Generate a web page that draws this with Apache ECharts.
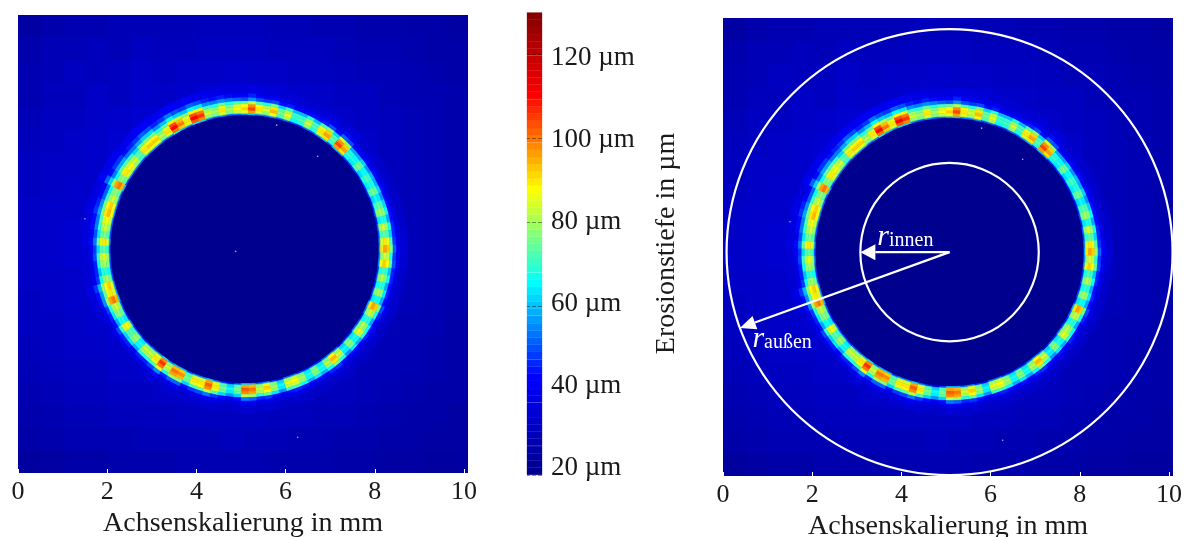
<!DOCTYPE html>
<html><head><meta charset="utf-8"><style>html,body{margin:0;padding:0;background:#fff}#c{width:1186px;height:537px}</style>
<script src="https://cdn.jsdelivr.net/npm/echarts@6/dist/echarts.min.js"></script></head>
<body><div id="c"></div><script>
const xTicks=[0,2,4,6,8,10];
const depthTicks=[20,40,60,80,100,120];
const jetColors=['#00008f','#0000ff','#00ffff','#ffff00','#ff0000','#6f0000'];
const colorbarLevels=[20.9,22.6,24.3,26,27.8,29.5,31.2,32.9,34.6,36.3,38.1,39.8,41.5,43.2,44.9,46.6,48.4,50.1,51.8,53.5,55.2,56.9,58.7,60.4,62.1,63.8,65.5,67.2,69,70.7,72.4,74.1,75.8,77.5,79.3,81,82.7,84.4,86.1,87.8,89.6,91.3,93,94.7,96.4,98.1,99.9,101.6,103.3,105,106.7,108.4,110.2,111.9,113.6,115.3,117,118.7,120.5,122.2,123.9,125.6,127.3,129];
// Background depth outside the ring, rows top to bottom
const backgroundDepth=[
[25,27,28,28,29,29,29,29,30,30,30,29,29,28,28,27,27,26,26,25],
[27,29,29,30,29,31,30,30,31,31,31,30,30,30,29,28,28,27,26,26],
[28,29,31,30,31,32,31,32,32,33,32,32,31,31,30,29,29,28,27,26],
[28,30,30,32,31,33,32,33,34,35,35,34,33,32,31,31,29,28,28,27],
[29,31,31,32,33,34,34,35,35,36,36,35,34,33,32,31,30,29,28,27],
[30,31,32,33,34,34,35,35,30,30,30,30,35,34,32,32,30,29,28,27],
[31,32,32,33,34,35,35,30,30,30,30,30,30,34,33,31,30,29,28,27],
[31,32,33,33,35,35,30,30,30,30,30,30,30,30,33,31,30,29,28,27],
[32,33,33,34,35,30,30,30,30,30,30,30,30,30,33,32,30,29,28,27],
[32,33,34,35,35,30,30,30,30,30,30,30,30,30,33,32,30,29,28,27],
[32,33,34,34,35,30,30,30,30,30,30,30,30,30,33,31,30,29,28,27],
[32,32,33,34,35,30,30,30,30,30,30,30,30,30,32,31,30,29,28,27],
[31,32,33,33,34,35,30,30,30,30,30,30,30,33,32,31,30,29,28,27],
[31,31,32,33,33,35,35,30,30,30,30,30,33,33,32,30,29,28,28,26],
[30,31,32,32,33,33,35,35,30,30,30,34,33,32,31,30,29,28,27,26],
[29,30,31,31,32,32,33,34,34,34,33,33,32,31,31,29,29,28,27,26],
[28,29,30,30,31,31,32,32,33,33,32,32,31,30,30,29,28,27,26,26],
[27,28,29,29,30,30,30,31,31,31,31,30,30,29,29,28,27,26,26,25],
[26,27,28,28,28,29,29,29,29,30,29,29,28,28,27,27,26,26,25,25],
[24,25,26,26,27,27,27,28,28,28,28,27,27,27,26,26,25,25,24,24]];
// Ring depth, one array per radial band, angle steps of 3 degrees clockwise from the top
const ringInnerEdge=[58,62,56,54,58,50,54,48,46,52,50,56,60,50,62,58,48,46,48,44,46,46,48,44,46,50,46,52,50,54,58,54,56,48,50,46,50,46,58,52,46,50,54,46,48,44,52,56,52,46,48,46,48,54,54,44,48,56,52,60,62,50,44,48,54,62,56,56,50,60,60,54,64,56,54,52,46,50,48,54,46,48,52,60,56,56,50,48,50,54,50,56,50,52,54,58,56,54,50,60,50,56,54,54,50,56,58,58,52,56,66,60,56,66,64,54,52,56,52,54];
const ringInner=[86,96,84,78,88,72,80,66,68,78,68,84,90,70,96,90,66,64,72,62,68,64,72,62,70,76,64,78,70,84,90,78,86,68,76,66,76,64,90,78,66,76,80,64,74,62,78,88,76,64,74,64,76,82,80,62,76,86,78,94,96,72,62,72,84,96,84,84,72,92,94,78,98,84,78,78,64,76,70,82,64,74,78,94,84,86,74,66,76,80,70,84,72,78,82,88,86,78,74,94,74,84,82,78,70,84,86,86,76,84,100,92,84,102,98,78,76,84,76,82];
const ringPeak=[92,104,90,84,94,76,86,70,72,84,72,90,96,74,104,96,70,68,76,66,72,68,76,66,74,80,68,84,74,90,96,84,92,72,82,70,80,68,96,84,70,82,86,68,78,66,84,94,82,68,78,68,80,88,86,66,80,92,84,100,102,76,66,76,90,102,90,90,76,98,100,84,106,90,84,84,68,80,74,88,68,78,84,100,90,92,80,70,80,86,74,90,76,84,88,94,92,84,78,100,78,90,88,84,74,90,92,92,82,90,110,100,90,110,106,84,80,90,80,88];
const ringOuter=[88,98,88,82,90,74,82,70,70,80,72,86,92,72,98,92,68,66,74,66,70,68,74,64,72,78,68,80,72,86,92,82,88,70,78,68,78,66,92,80,68,78,82,66,76,64,80,90,78,66,76,66,78,84,82,64,78,88,80,96,98,74,64,74,86,98,88,86,74,94,96,80,100,86,80,80,66,76,72,84,66,76,80,96,86,88,78,68,78,82,72,86,74,80,84,90,88,80,76,96,76,86,84,80,72,86,88,88,78,86,104,94,86,104,100,80,76,86,76,84];
const ringFlank=[74,82,72,68,76,62,70,60,60,68,60,72,78,62,84,78,58,58,62,56,60,58,62,56,62,66,58,68,62,72,78,68,74,60,66,58,64,58,76,68,58,66,70,58,64,56,68,76,66,58,64,58,66,72,70,56,64,74,68,80,82,62,56,62,72,82,74,72,62,78,80,68,86,72,68,68,58,64,62,70,58,64,68,80,74,78,66,60,66,70,62,74,64,70,72,76,76,70,66,80,66,74,72,70,62,74,76,76,68,74,88,82,76,88,86,70,68,74,68,72];
const ringFringe=[50,56,50,48,50,44,46,42,42,44,44,46,50,44,52,50,42,42,44,42,44,42,44,42,44,44,44,46,46,48,52,48,50,46,46,44,46,44,50,46,42,44,46,42,44,42,44,48,46,42,44,42,44,46,44,40,44,48,46,52,54,44,40,44,48,54,50,48,44,52,52,46,56,50,46,46,42,46,46,50,44,46,48,56,56,60,48,46,46,50,48,54,50,54,54,58,56,52,52,62,54,58,58,54,54,58,62,62,56,60,66,62,60,66,64,56,54,56,54,52];
const ringHalo=[42,46,42,40,42,38,40,37,37,38,38,40,42,38,44,42,37,37,38,36,37,36,38,36,37,37,37,38,38,40,42,40,41,38,38,37,38,37,40,38,36,37,38,36,37,36,37,39,38,36,37,36,37,38,37,35,37,39,38,41,42,37,35,37,39,42,40,39,37,41,41,38,44,40,38,38,36,38,38,40,37,38,39,44,44,48,40,38,38,40,39,44,40,44,44,48,46,42,42,52,44,48,48,44,46,48,52,50,46,48,54,50,48,52,50,46,44,46,44,42];
const ringFarHalo=[37,38,37,36,36,35,35,34,34,34,34,35,36,34,36,36,33,33,34,33,33,33,33,32,33,33,33,33,34,34,35,34,34,33,33,33,33,33,34,33,32,33,33,32,33,32,33,33,33,32,33,32,33,33,33,32,33,34,33,34,35,33,32,33,34,35,34,34,33,34,34,33,36,34,33,33,33,33,33,34,33,34,34,36,36,38,35,34,34,35,35,37,36,37,37,39,38,37,37,41,38,40,40,38,39,40,42,42,40,41,43,42,40,42,40,39,38,38,37,36];
const ringBands=[ringInnerEdge,ringInner,ringPeak,ringOuter,ringFlank,ringFringe,ringHalo,ringFarHalo];
const bandEdgesMm=[3.016,3.05,3.12,3.19,3.26,3.33,3.41,3.5,3.66];
const centerMm=[5.08,5.02];
const boreDepth=20;
const speckles=[[5.8,7.8],[6.72,7.1],[4.88,4.97],[1.5,5.7],[6.27,0.8]];
const rInnerMm=2, rOuterMm=5;
const arrowAngles=[270,250.1];
const xMax=10.09,yMax=10.27;

const bgCells=[];
backgroundDepth.forEach((row,r)=>row.forEach((v,c)=>{
  const w=xMax/row.length,h=yMax/backgroundDepth.length;
  bgCells.push([v,c*w,yMax-r*h,(c+1)*w,yMax-(r+1)*h]);
}));
const ringCells=[];
ringBands.forEach((band,b)=>band.forEach((v,i)=>{
  ringCells.push([v,bandEdgesMm[b],bandEdgesMm[b+1],i*3]);
}));
const pt=(r,deg)=>[centerMm[0]+r*Math.sin(deg*Math.PI/180),centerMm[1]+r*Math.cos(deg*Math.PI/180)];

const rectSeries=(idx)=>({type:'custom',xAxisIndex:idx,yAxisIndex:idx,animation:false,progressive:0,silent:true,z:2,data:bgCells,
  renderItem:(p,api)=>{const a=api.coord([api.value(1),api.value(2)]),b=api.coord([api.value(3),api.value(4)]);const x=Math.round(a[0]),y=Math.round(a[1]);
    return {type:'rect',shape:{x:x,y:y,width:Math.round(b[0])-x,height:Math.round(b[1])-y},style:{fill:api.visual('color')}};}});
const discSeries=(idx)=>({type:'custom',xAxisIndex:idx,yAxisIndex:idx,animation:false,silent:true,z:3,data:[[boreDepth,centerMm[0],centerMm[1],bandEdgesMm[0]]],
  renderItem:(p,api)=>{const c=api.coord([api.value(1),api.value(2)]);const rp=api.size([api.value(3),0])[0];
    return {type:'circle',shape:{cx:c[0],cy:c[1],r:rp},style:{fill:api.visual('color')}};}});
const ringSeries=(idx)=>({type:'custom',xAxisIndex:idx,yAxisIndex:idx,animation:false,progressive:0,silent:true,z:4,data:ringCells,
  renderItem:(p,api)=>{const r0=api.value(1),r1=api.value(2),t=api.value(3);const col=api.visual('color');
    const pts=[pt(r0,t-1.5),pt(r0,t+1.5),pt(r1,t+1.5),pt(r1,t-1.5)].map(q=>api.coord(q));
    return {type:'polygon',shape:{points:pts},style:{fill:col,stroke:col,lineWidth:.6}};}});
const speckSeries=(idx)=>({type:'scatter',xAxisIndex:idx,yAxisIndex:idx,animation:false,silent:true,z:5,symbolSize:1.6,itemStyle:{color:'#cfd8ff'},data:speckles,encode:{x:0,y:1}});
const annotationSeries={type:'custom',xAxisIndex:1,yAxisIndex:1,animation:false,silent:true,z:8,data:[[0]],
  renderItem:(p,api)=>{
    const c=api.coord(centerMm),scale=api.size([1,0])[0],kids=[];
    [rInnerMm,rOuterMm].forEach(r=>kids.push({type:'circle',shape:{cx:c[0],cy:c[1],r:r*scale},style:{fill:'none',stroke:'#fff',lineWidth:2.2}}));
    [rInnerMm,rOuterMm].forEach((r,i)=>{
      const tip=api.coord(pt(r,arrowAngles[i]));
      const dx=tip[0]-c[0],dy=tip[1]-c[1],L=Math.hypot(dx,dy),ux=dx/L,uy=dy/L,hl=i?16:15,hw=i?7:8;
      const bx=tip[0]-ux*hl,by=tip[1]-uy*hl;
      kids.push({type:'line',shape:{x1:c[0],y1:c[1],x2:bx,y2:by},style:{stroke:'#fff',lineWidth:2.2}});
      kids.push({type:'polygon',shape:{points:[tip,[bx-uy*hw,by+ux*hw],[bx+uy*hw,by-ux*hw]]},style:{fill:'#fff'}});
    });
    const lab=(mm,name,sub)=>{const q=api.coord(mm);
      kids.push({type:'text',x:q[0],y:q[1],style:{text:'{r|'+name+'}{s|'+sub+'}',fill:'#fff',verticalAlign:'middle',rich:{r:{font:'italic 30px "Liberation Serif"',fill:'#fff'},s:{font:'20px "Liberation Serif"',fill:'#fff',padding:[7,0,0,0]}}}});};
    lab([3.46,5.35],'r','innen');
    lab([0.66,3.07],'r','außen');
    return {type:'group',children:kids};
  }};
const colorbarSeries={type:'custom',xAxisIndex:2,yAxisIndex:2,animation:false,silent:true,z:2,data:colorbarLevels.map(v=>[v]),
  renderItem:(p,api)=>{const v=api.value(0);const a=api.coord([0,v+.86]),b=api.coord([1,v-.86]);const col=api.visual('color');
    return {type:'rect',shape:{x:a[0],y:a[1],width:b[0]-a[0],height:b[1]-a[1]},style:{fill:col,stroke:col,lineWidth:.3}};}};

const FONT='"Liberation Serif"';
const xAxis=(idx,gap)=>({gridIndex:idx,type:'value',min:0,max:xMax,z:10,name:'Achsenskalierung in mm',nameLocation:'middle',nameGap:gap,
  nameTextStyle:{fontFamily:FONT,fontSize:28,color:'#1a1a1a'},axisLine:{show:false},splitLine:{show:false},
  axisTick:{show:true,inside:true,length:4,customValues:xTicks,lineStyle:{color:'#fff',width:1}},
  axisLabel:{customValues:xTicks,margin:6,fontFamily:FONT,fontSize:26,color:'#1a1a1a'}});
const yHidden=(idx)=>({gridIndex:idx,type:'value',min:0,max:yMax,show:false});

const option={backgroundColor:'#fff',animation:false,
  grid:[{left:18,top:15,width:450,height:458,outerBoundsMode:'none'},{left:723,top:18,width:450,height:458,outerBoundsMode:'none'},{left:527,top:12,width:15,height:463,outerBoundsMode:'none'}],
  visualMap:{show:false,type:'continuous',min:21,max:132.5,dimension:0,seriesIndex:[0,1,2,4,5,6,8],inRange:{color:jetColors}},
  xAxis:[xAxis(0,37),xAxis(1,37),{gridIndex:2,type:'value',min:0,max:1,show:false}],
  yAxis:[yHidden(0),yHidden(1),
    {gridIndex:2,type:'value',position:'right',min:20,max:130,z:10,
      axisLine:{show:false,onZero:false},splitLine:{show:false},axisLabel:{show:false},
      axisTick:{show:true,inside:true,length:15,customValues:depthTicks,lineStyle:{color:'rgba(0,0,0,.4)',type:'dashed',width:1}}},
    {gridIndex:2,type:'value',position:'right',min:18.3,max:131.2,z:10,
      name:'Erosionstiefe in µm',nameLocation:'middle',nameRotate:90,nameGap:111,nameTextStyle:{fontFamily:FONT,fontSize:28,color:'#1a1a1a'},
      axisLine:{show:false,onZero:false},splitLine:{show:false},axisTick:{show:false},
      axisLabel:{customValues:depthTicks,margin:9,formatter:'{value} µm',fontFamily:FONT,fontSize:27,color:'#1a1a1a'}}],
  series:[rectSeries(0),discSeries(0),ringSeries(0),speckSeries(0),rectSeries(1),discSeries(1),ringSeries(1),speckSeries(1),colorbarSeries,annotationSeries]
};
echarts.init(document.getElementById('c'),null,{renderer:'canvas'}).setOption(option);
</script></body></html>
